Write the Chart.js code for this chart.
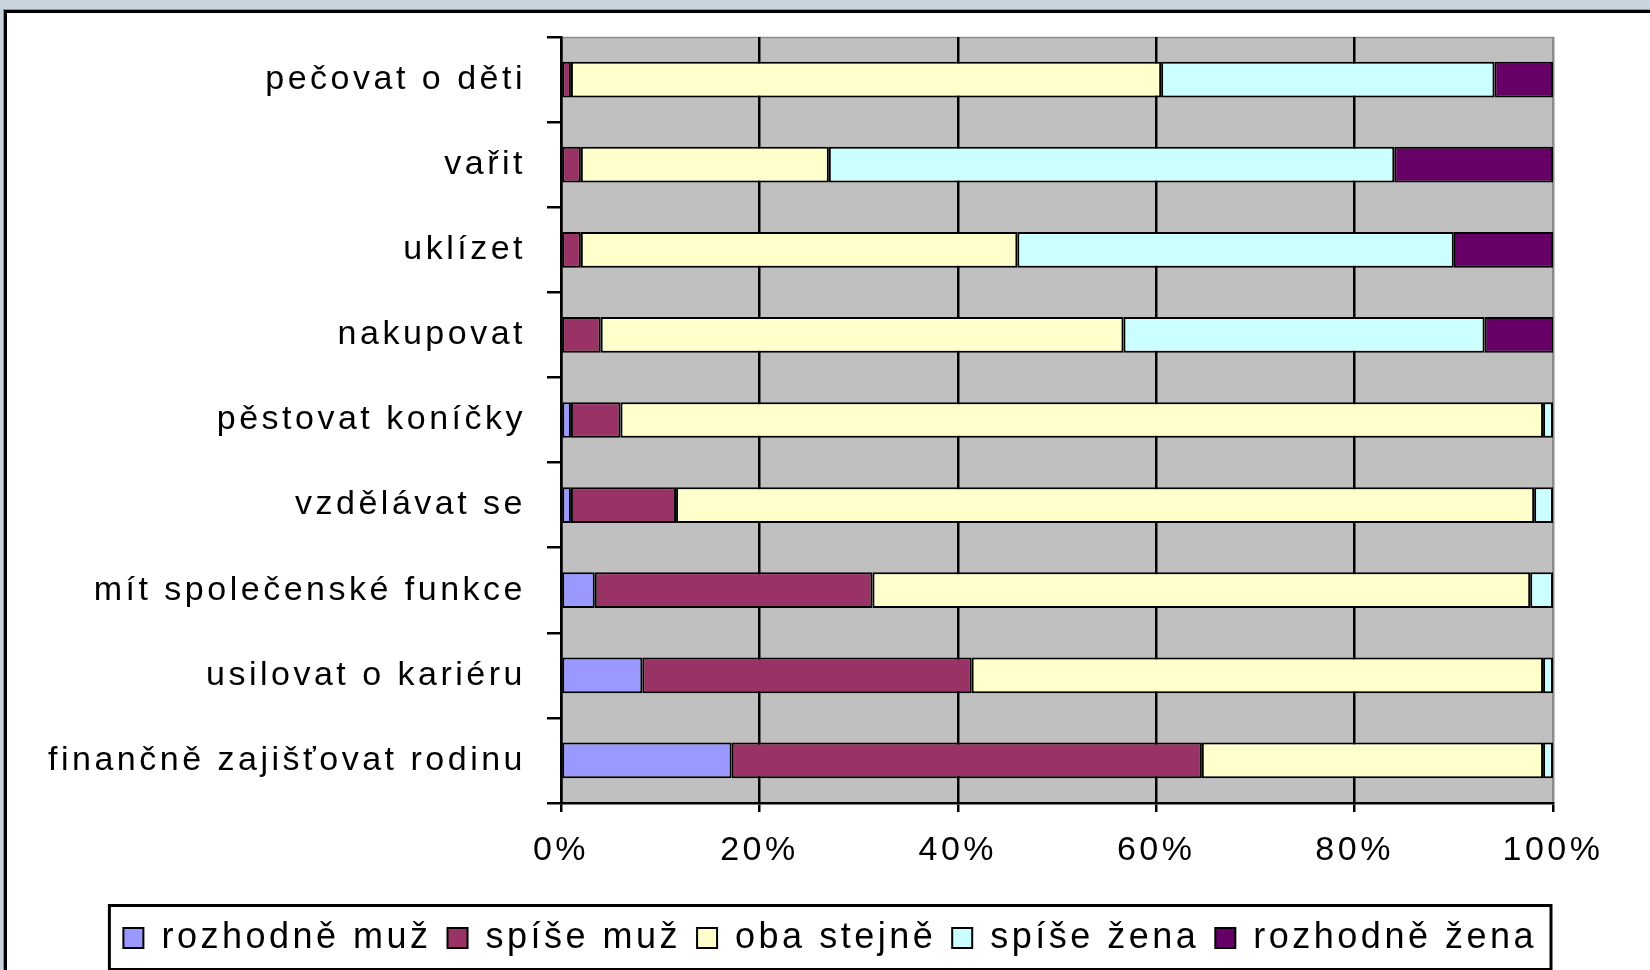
<!DOCTYPE html>
<html>
<head>
<meta charset="utf-8">
<script src="https://cdn.jsdelivr.net/npm/chart.js@4.4.1/dist/chart.umd.min.js"></script>
<style>
  html, body { margin: 0; padding: 0; width: 1650px; height: 970px; overflow: hidden; background: #c9d4dc; }
  #panel {
    position: absolute; left: 4px; top: 10px; width: 1700px; height: 1000px;
    background: #fff; border-left: 3px solid #000; border-top: 3px solid #000;
    box-shadow: -1px -1px 0 #8a9299;
  }
  #wrap { position: absolute; left: 0; top: 0; width: 1650px; height: 970px; }
</style>
</head>
<body>
<div id="panel"></div>
<div id="wrap"><canvas id="chart"></canvas></div>
<script>
// categories, top to bottom
const activities = [
  'pečovat o děti',
  'vařit',
  'uklízet',
  'nakupovat',
  'pěstovat koníčky',
  'vzdělávat se',
  'mít společenské funkce',
  'usilovat o kariéru',
  'finančně zajišťovat rodinu'
];

// shares in %, one array per answer
const rozhodneMuz   = [0,   0,  0,  0,    1,  1,    3.4,  8.2, 17.2];
const spiseMuz      = [1,   2,  2,  4,    5,  10.6, 28,  33.2, 47.4];
const obaStejne     = [59.5, 25, 44, 52.7, 93, 86.5, 66.3, 57.6, 34.4];
const spiseZena     = [33.6, 57, 44, 36.4, 1,  1.9,  2.3,  1,    1];
const rozhodneZena  = [5.9, 16, 10, 7,    0,  0,    0,    0,    0];

const seriesNames = ['rozhodně muž', 'spíše muž', 'oba stejně', 'spíše žena', 'rozhodně žena'];
const seriesColors = ['#9999ff', '#993366', '#ffffcc', '#ccffff', '#660066'];
const seriesValues = [rozhodneMuz, spiseMuz, obaStejne, spiseZena, rozhodneZena];

const xTicks = [0, 20, 40, 60, 80, 100];

const FAMILY = '"Liberation Sans", Arial, sans-serif';
const FONT = { family: FAMILY, size: 34 };
const SPACING = '3.5px';

// Excel-like spaced text
const spacingPlugin = {
  id: 'spacing',
  beforeLayout(chart) { chart.ctx.letterSpacing = SPACING; },
  beforeDraw(chart) { chart.ctx.letterSpacing = SPACING; }
};

// grey plot area
const plotBg = {
  id: 'plotBg',
  beforeDraw(chart) {
    const { ctx, chartArea: a } = chart;
    ctx.save();
    ctx.fillStyle = '#c0c0c0';
    ctx.fillRect(a.left, a.top, a.right - a.left, a.bottom - a.top);
    ctx.strokeStyle = '#8c8c8c';
    ctx.lineWidth = 1.5;
    ctx.beginPath();
    ctx.moveTo(a.left, a.top + 0.5);
    ctx.lineTo(a.right, a.top + 0.5);
    ctx.lineTo(a.right, a.bottom);
    ctx.stroke();
    ctx.restore();
  }
};

// frame round the legend
const legendFrame = {
  id: 'legendFrame',
  afterDraw(chart) {
    const lg = chart.legend;
    if (!lg || !lg.legendHitBoxes.length) return;
    const boxes = lg.legendHitBoxes;
    const left = Math.min(...boxes.map(b => b.left)) - 14;
    const right = Math.max(...boxes.map(b => b.left + b.width)) + 14;
    const ctx = chart.ctx;
    ctx.save();
    ctx.strokeStyle = '#000';
    ctx.lineWidth = 3;
    ctx.strokeRect(left, lg.top + 1.5, right - left, lg.bottom - lg.top + 2);
    ctx.restore();
  }
};

const datasets = seriesNames.map((name, i) => ({
  label: name,
  data: seriesValues[i],
  backgroundColor: seriesColors[i],
  borderColor: '#000',
  borderWidth: 2,
  borderSkipped: false,
  barPercentage: 0.42,
  categoryPercentage: 1
}));

new Chart(document.getElementById('chart'), {
  type: 'bar',
  data: { labels: activities, datasets },
  plugins: [spacingPlugin, plotBg, legendFrame],
  options: {
    indexAxis: 'y',
    responsive: true,
    maintainAspectRatio: false,
    animation: false,
    layout: { padding: { top: 37, right: 97, bottom: 4, left: 0 } },
    scales: {
      x: {
        stacked: true,
        min: 0,
        max: 100,
        afterBuildTicks(scale) { scale.ticks = xTicks.map(v => ({ value: v })); },
        afterFit(scale) { scale.height = 101; },
        ticks: {
          font: FONT,
          color: '#000',
          padding: 18,
          maxRotation: 0,
          callback: v => v + '%'
        },
        grid: {
          color: c => (c.tick && c.tick.value === 100 ? '#8c8c8c' : '#000'),
          lineWidth: 2.5,
          tickColor: '#000',
          tickLength: 9
        },
        border: { color: '#000', width: 2.5 }
      },
      y: {
        stacked: true,
        afterFit(scale) { scale.width = 561; },
        ticks: { font: { family: FAMILY, size: 34, lineHeight: 0.6 }, color: '#000', padding: 21 },
        grid: {
          offset: true,
          drawOnChartArea: false,
          color: '#000',
          lineWidth: 2.5,
          tickLength: 14
        },
        border: { color: '#000', width: 2.5 }
      }
    },
    plugins: {
      tooltip: { enabled: false },
      legend: {
        position: 'bottom',
        align: 'end',
        labels: {
          font: { family: FAMILY, size: 36 },
          color: '#000',
          boxWidth: 20,
          boxHeight: 20,
          padding: 16
        }
      }
    }
  }
});
</script>
</body>
</html>
